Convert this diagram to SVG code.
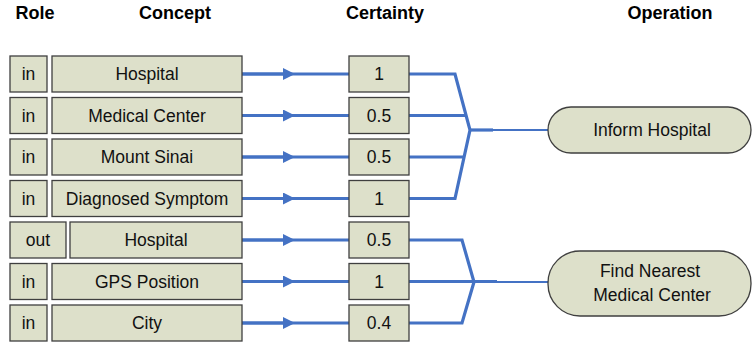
<svg xmlns="http://www.w3.org/2000/svg" width="752" height="347" viewBox="0 0 752 347">
<style>
.box{fill:#dde0ca;stroke:#3f3f3f;stroke-width:1.3}
.t{font-family:"Liberation Sans",Arial,sans-serif;font-size:17.5px;fill:#111;text-anchor:middle}
.h{font-family:"Liberation Sans",Arial,sans-serif;font-size:18px;font-weight:bold;fill:#000;text-anchor:middle}
.c{fill:none;stroke:#4472c4;stroke-width:3.2;stroke-linejoin:miter}
.c2{fill:none;stroke:#4472c4;stroke-width:2.2}
</style>
<defs>
<marker id="ah" markerWidth="12" markerHeight="12" refX="6" refY="6" orient="auto" markerUnits="userSpaceOnUse">
<path d="M0,0 L12,6 L0,12 Z" fill="#4472c4"/>
</marker>
</defs>
<g id="headers">
<text class="h" x="35" y="19">Role</text>
<text class="h" x="175" y="19">Concept</text>
<text class="h" x="385" y="19">Certainty</text>
<text class="h" x="670" y="19">Operation</text>
</g>
<g id="connectors">
<path class="c" d="M242,74 H288 M288,74 H349" marker-start="none"/>
<path class="c" d="M242,74 L289,74" marker-end="url(#ah)"/>
<path class="c" d="M242,115.5 H349"/><path class="c" d="M242,115.5 L289,115.5" marker-end="url(#ah)"/>
<path class="c" d="M242,157 H349"/><path class="c" d="M242,157 L289,157" marker-end="url(#ah)"/>
<path class="c" d="M242,198.5 H349"/><path class="c" d="M242,198.5 L289,198.5" marker-end="url(#ah)"/>
<path class="c" d="M242,240 H349"/><path class="c" d="M242,240 L289,240" marker-end="url(#ah)"/>
<path class="c" d="M242,281.5 H349"/><path class="c" d="M242,281.5 L289,281.5" marker-end="url(#ah)"/>
<path class="c" d="M242,323 H349"/><path class="c" d="M242,323 L289,323" marker-end="url(#ah)"/>
<path class="c" d="M409,74 H455 L470,130 L455,198.5 H409"/>
<path class="c" d="M409,115.5 H466"/>
<path class="c" d="M409,157 H464"/>
<path class="c" d="M470,130 H493"/>
<path class="c2" d="M493,130 H548"/>
<path class="c" d="M409,240 H462 L474,282 L462,323 H409"/>
<path class="c" d="M409,281.5 H497"/>
<path class="c2" d="M497,282 H548"/>
</g>
<g id="row1"><rect class="box" x="10" y="56" width="37" height="36"/><text class="t" x="28.5" y="80">in</text><rect class="box" x="52" y="56" width="190" height="36"/><text class="t" x="147" y="80">Hospital</text><rect class="box" x="349" y="56" width="60" height="36"/><text class="t" x="379" y="80">1</text></g>
<g id="row2"><rect class="box" x="10" y="97.5" width="37" height="36"/><text class="t" x="28.5" y="121.5">in</text><rect class="box" x="52" y="97.5" width="190" height="36"/><text class="t" x="147" y="121.5">Medical Center</text><rect class="box" x="349" y="97.5" width="60" height="36"/><text class="t" x="379" y="121.5">0.5</text></g>
<g id="row3"><rect class="box" x="10" y="139" width="37" height="36"/><text class="t" x="28.5" y="163">in</text><rect class="box" x="52" y="139" width="190" height="36"/><text class="t" x="147" y="163">Mount Sinai</text><rect class="box" x="349" y="139" width="60" height="36"/><text class="t" x="379" y="163">0.5</text></g>
<g id="row4"><rect class="box" x="10" y="180.5" width="37" height="36"/><text class="t" x="28.5" y="204.5">in</text><rect class="box" x="52" y="180.5" width="190" height="36"/><text class="t" x="147" y="204.5">Diagnosed Symptom</text><rect class="box" x="349" y="180.5" width="60" height="36"/><text class="t" x="379" y="204.5">1</text></g>
<g id="row5"><rect class="box" x="10" y="222" width="56" height="36"/><text class="t" x="38" y="246">out</text><rect class="box" x="70" y="222" width="172" height="36"/><text class="t" x="156" y="246">Hospital</text><rect class="box" x="349" y="222" width="60" height="36"/><text class="t" x="379" y="246">0.5</text></g>
<g id="row6"><rect class="box" x="10" y="263.5" width="37" height="36"/><text class="t" x="28.5" y="287.5">in</text><rect class="box" x="52" y="263.5" width="190" height="36"/><text class="t" x="147" y="287.5">GPS Position</text><rect class="box" x="349" y="263.5" width="60" height="36"/><text class="t" x="379" y="287.5">1</text></g>
<g id="row7"><rect class="box" x="10" y="305" width="37" height="36"/><text class="t" x="28.5" y="329">in</text><rect class="box" x="52" y="305" width="190" height="36"/><text class="t" x="147" y="329">City</text><rect class="box" x="349" y="305" width="60" height="36"/><text class="t" x="379" y="329">0.4</text></g>
<g id="op-inform"><rect class="box" x="548" y="107" width="203" height="46" rx="23"/><text class="t" x="652" y="136">Inform Hospital</text></g>
<g id="op-find"><rect class="box" x="548" y="251" width="203" height="65" rx="32"/><text class="t" x="650" y="277">Find Nearest</text><text class="t" x="652" y="301">Medical Center</text></g>
</svg>
